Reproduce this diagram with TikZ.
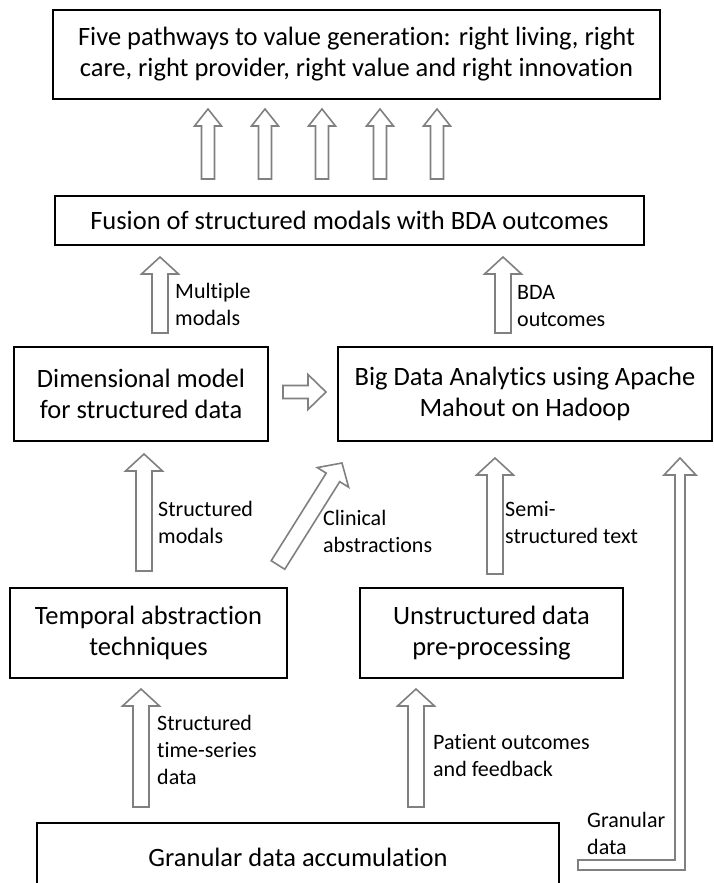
\documentclass[tikz,border=0pt]{standalone}
\usepackage{fontspec}
\setmainfont{Carlito}[Ligatures=NoCommon]
\usetikzlibrary{calc}
\definecolor{arrowgray}{RGB}{128,128,128}
% hollow block arrow: tail, tip, half shaft, half head, head length
\newcommand{\fatarrow}[5]{%
\draw[blockarrow] let \p1=#1, \p2=#2, \n1={atan2(\y2-\y1,\x2-\x1)}, \n2={veclen(\x2-\x1,\y2-\y1)} in
 ($(\p1)+(\n1+90:#3)$) -- ($(\p1)+(\n1:\n2-#5)+(\n1+90:#3)$) -- ($(\p1)+(\n1:\n2-#5)+(\n1+90:#4)$) -- (\p2)
 -- ($(\p1)+(\n1:\n2-#5)+(\n1-90:#4)$) -- ($(\p1)+(\n1:\n2-#5)+(\n1-90:#3)$) -- ($(\p1)+(\n1-90:#3)$) -- cycle;}
\begin{document}
\begin{tikzpicture}[x=1pt,y=-1pt,
  box/.style={draw,line width=2pt,align=center,inner sep=0pt,font=\fontsize{26.5}{31}\selectfont},
  lbl/.style={align=left,inner sep=0pt,font=\fontsize{22}{27}\selectfont},
  blockarrow/.style={draw=arrowgray,line width=1.6pt,fill=white,line join=miter}]
\useasboundingbox (0,0) rectangle (714,883);
\clip (0,0) rectangle (714,883);
% boxes
\node at (356.5,54.5)[box,minimum width=607pt,minimum height=89pt] (top){Five pathways to value generation: right living, right\\care, right provider, right value and right innovation};
\node at (349.5,220.5)[box,minimum width=589pt,minimum height=49pt] (fusion){Fusion of structured modals with BDA outcomes};
\node at (141,394)[box,minimum width=254pt,minimum height=94pt] (dim){Dimensional model\\for structured data};
\node at (525,394)[box,minimum width=374pt,minimum height=94pt] (big){Big Data Analytics using Apache\\Mahout on Hadoop};
\node at (148.5,633)[box,minimum width=277pt,minimum height=90pt] (temporal){Temporal abstraction\\techniques};
\node at (491.5,633)[box,minimum width=263pt,minimum height=90pt] (unstr){Unstructured data\\pre-processing};
\node at (298,857)[box,minimum width=522pt,minimum height=68pt] (bottom){Granular data accumulation};
% arrows
\foreach \ax in {208,265,322,380,437}
  \fatarrow{($(fusion.north)+(\ax-349.5,-16)$)}{($(top.south)+(\ax-356.5,9)$)}{6.5pt}{13.5pt}{17pt};
\fatarrow{($(dim.north)+(19,-13)$)}{($(fusion.south)+(-189.5,11)$)}{8pt}{18.5pt}{17pt}
\fatarrow{($(big.north)+(-22,-13)$)}{($(fusion.south)+(153.5,11)$)}{8pt}{18.5pt}{17pt}
\fatarrow{($(dim.east)+(14,-2)$)}{($(big.west)+(-11,-2)$)}{6.5pt}{17.5pt}{18pt}
\fatarrow{($(temporal.north)+(-4.5,-16)$)}{($(dim.south)+(3,12)$)}{8pt}{18.5pt}{17pt}
\fatarrow{($(temporal.north)+(129.5,-22)$)}{($(big.south west)+(5,21)$)}{8pt}{18.5pt}{17pt}
\fatarrow{($(unstr.north)+(3.5,-13)$)}{($(big.south)+(-30,16)$)}{8pt}{18.5pt}{17pt}
\fatarrow{($(bottom.north)+(-157,-15)$)}{($(temporal.south)+(-7.5,10)$)}{8pt}{18.5pt}{17pt}
\fatarrow{($(bottom.north)+(118,-15)$)}{($(unstr.south)+(-75.5,10)$)}{8pt}{18.5pt}{17pt}
\coordinate (gtip) at ($(big.south)+(155,16)$);
\draw[blockarrow] (gtip) -- ++(16,17) -- ++(-11,0) |- ($(bottom.east)+(18,13)$) -- ++(0,-10) -| ($(gtip)+(-5,17)$) -- ++(-11,0) -- cycle;
% labels
\node at (175,304)[right,lbl] (lmm){Multiple\\modals};
\node at (517,306)[right,lbl] (lbda){BDA\\outcomes};
\node at (158,522)[right,lbl] (lsm){Structured\\modals};
\node at (323,531)[right,lbl] (lca){Clinical\\abstractions};
\node at (505,523)[right,lbl] (lst){Semi-\\structured text};
\node at (157,750)[right,lbl] (lts){Structured\\time-series\\data};
\node at (433,756)[right,lbl] (lpo){Patient outcomes\\and feedback};
\node at (587,833)[right,lbl] (lgd){Granular\\data};
\end{tikzpicture}
\end{document}
